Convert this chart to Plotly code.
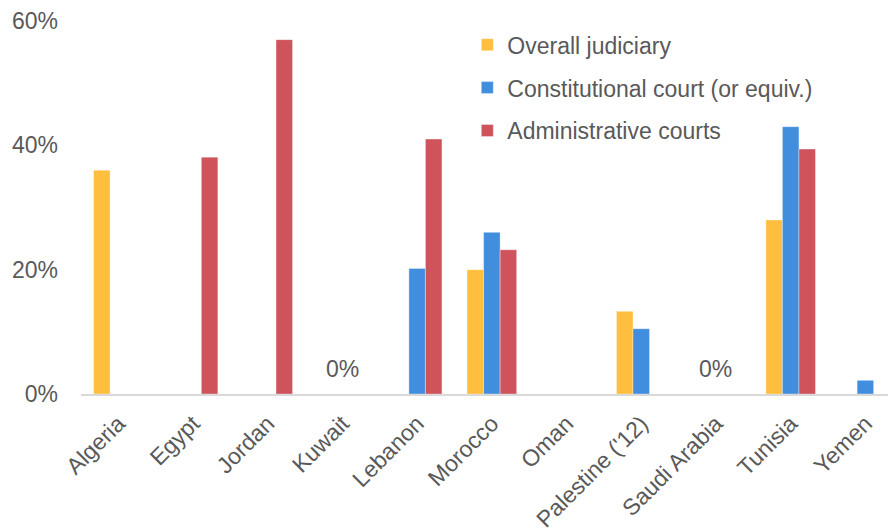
import plotly.graph_objects as go

countries = ["Algeria", "Egypt", "Jordan", "Kuwait", "Lebanon", "Morocco", "Oman",
             "Palestine ('12)", "Saudi Arabia", "Tunisia", "Yemen"]
overall = [36, None, None, None, None, 20, None, 13.3, None, 28, None]
constitutional = [None, None, None, None, 20.2, 26, None, 10.5, None, 43, 2.2]
administrative = [None, 38.1, 57, None, 41, 23.2, None, None, None, 39.4, None]
series_names = ["Overall judiciary", "Constitutional court (or equiv.)", "Administrative courts"]
zero_labels = ["Kuwait", "Saudi Arabia"]
y_ticks = [0, 20, 40, 60]
y_tick_labels = ["0%", "20%", "40%", "60%"]

colors = ["#FFBE3D", "#428EDE", "#CE535B"]
font_family = "Liberation Sans, Arial, sans-serif"
gray = "#595959"
fs = 23

fig = go.Figure()
for i, (name, vals) in enumerate(zip(series_names, [overall, constitutional, administrative])):
    fig.add_trace(go.Bar(
        x=countries, y=vals, name=name, legendgroup=str(i),
        marker=dict(color=colors[i], line=dict(color="rgba(255,255,255,0.6)", width=0.6)),
    ))

for c in zero_labels:
    fig.add_annotation(x=c, y=4, text="0%", showarrow=False,
                       font=dict(size=fs, color=gray, family=font_family))

fig.update_layout(
    width=888, height=524,
    margin=dict(l=73, r=0, t=11, b=135),
    paper_bgcolor="white", plot_bgcolor="white",
    barmode="group", bargap=0.336, bargroupgap=0,
    font=dict(family=font_family, size=fs, color=gray),
    legend=dict(x=0.474, y=0.994, xanchor="left", yanchor="top",
                font=dict(size=fs, color=gray), tracegroupgap=10,
                traceorder="grouped", bgcolor="rgba(0,0,0,0)", itemwidth=30),
    xaxis=dict(range=[-0.5, 10.41], tickangle=-45, showgrid=False,
               showline=True, linecolor="#D9D9D9", linewidth=2,
               ticklabelstandoff=5,
               tickfont=dict(size=fs, color=gray)),
    yaxis=dict(range=[0, 60], tickvals=y_ticks, ticktext=y_tick_labels, showgrid=False,
               zeroline=False, showline=False, ticklabelstandoff=22,
               ticklabeloverflow="allow",
               tickfont=dict(size=fs, color=gray)),
)

fig.write_html("out.html")
